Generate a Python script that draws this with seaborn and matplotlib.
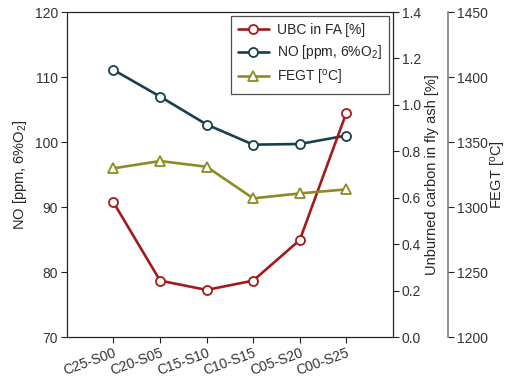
import matplotlib
matplotlib.use("Agg")
import matplotlib.pyplot as plt
import seaborn as sns
import pandas as pd

cases = ["C25-S00", "C20-S05", "C15-S10", "C10-S15", "C05-S20", "C00-S25"]
no_ppm = [111.1, 107.0, 102.7, 99.6, 99.7, 101.0]
ubc_pct = [0.58, 0.243, 0.203, 0.243, 0.418, 0.966]
fegt_c = [1329.8, 1335.4, 1331.0, 1306.7, 1310.5, 1313.6]

sns.set_style("ticks")
plt.rcParams["font.family"] = ["Liberation Sans", "DejaVu Sans"]
plt.rcParams["font.size"] = 10
plt.rcParams["mathtext.default"] = "regular"

red = "#A31A1A"
teal = "#173F4C"
olive = "#8C8C24"

df = pd.DataFrame({"pos": range(len(cases)), "case": cases,
                   "no": no_ppm, "ubc": ubc_pct, "fegt": fegt_c})

fig = plt.figure(figsize=(5.07, 3.77), dpi=100)
ax1 = fig.add_axes([0.132, 0.106, 0.643, 0.862])
ax2 = ax1.twinx()
ax3 = ax1.twinx()

common = dict(linewidth=1.9, markersize=6.5, markerfacecolor="white",
              markeredgewidth=1.3)
sns.lineplot(data=df, x="pos", y="no", ax=ax1, color=teal, marker="o",
             markeredgecolor=teal, label="NO [ppm, 6%O$_2$]", legend=False, **common)
sns.lineplot(data=df, x="pos", y="ubc", ax=ax2, color=red, marker="o",
             markeredgecolor=red, label="UBC in FA [%]", legend=False, **common)
sns.lineplot(data=df, x="pos", y="fegt", ax=ax3, color=olive, marker="^",
             markeredgecolor=olive, label="FEGT [$^o$C]", legend=False, **common)

ax1.set_xlim(-1, 6)
ax1.set_xticks(df["pos"])
ax1.set_xticklabels(cases, rotation=20, ha="right", rotation_mode="anchor")
ax1.set_xlabel("")
ax1.set_ylim(70, 120)
ax1.set_yticks(range(70, 121, 10))
ax1.set_ylabel("NO [ppm, 6%O$_2$]", fontsize=10.5)

ax2.set_ylim(0, 1.4)
ax2.set_yticks([0, 0.2, 0.4, 0.6, 0.8, 1.0, 1.2, 1.4])
ax2.set_yticklabels([f"{v:.1f}" for v in ax2.get_yticks()])
ax2.set_ylabel("Unburned carbon in fly ash [%]", fontsize=10.5, labelpad=3)

ax3.set_ylim(1200, 1450)
ax3.set_yticks(range(1200, 1451, 50))
ax3.spines["right"].set_position(("axes", 1.169))
ax3.spines["right"].set_linewidth(1.2)
ax3.set_ylabel("FEGT [$^o$C]", fontsize=10.5, labelpad=1)
for s in ["left", "top", "bottom"]:
    ax3.spines[s].set_visible(False)

for ax in (ax1, ax2, ax3):
    ax.tick_params(direction="out", length=4, width=0.8, labelsize=10,
                   colors="#222222", labelcolor="#333333", pad=2.5)
    ax.set_xlabel("")
for s in ["left", "right", "top", "bottom"]:
    ax1.spines[s].set_color("#222222")
    ax2.spines[s].set_color("#222222")
ax3.spines["right"].set_color("#808080")

handles = []
labels = []
for ax in (ax2, ax1, ax3):
    h, l = ax.get_legend_handles_labels()
    handles += h
    labels += l
leg = ax3.legend(handles, labels, loc="upper right", bbox_to_anchor=(1.0, 1.0),
                 borderaxespad=0.3, frameon=True, fancybox=False,
                 edgecolor="#222222", fontsize=10, handlelength=2.2,
                 handletextpad=0.6, borderpad=0.5, labelspacing=0.45)
leg.get_frame().set_linewidth(0.9)

fig.savefig("out.png", dpi=100)
